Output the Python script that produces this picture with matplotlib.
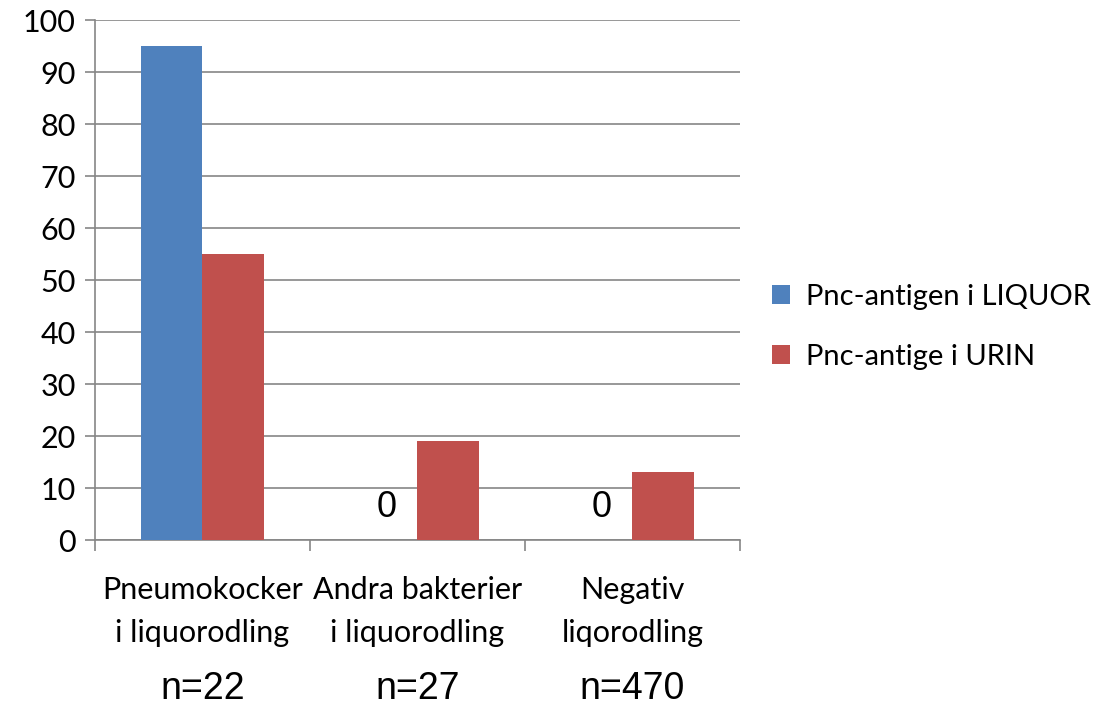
import matplotlib.pyplot as plt
import numpy as np

categories = [("Pneumokocker", "i liquorodling"), ("Andra bakterier", "i liquorodling"), ("Negativ", "liqorodling")]
n_labels = ["n=22", "n=27", "n=470"]
liquor = [95, 0, 0]
urin = [55, 19, 13]
series_names = ["Pnc-antigen i LIQUOR", "Pnc-antige i URIN"]

plt.rcParams['font.family'] = ['Lato', 'DejaVu Sans']

fig = plt.figure(figsize=(11.11, 7.05), dpi=100)
ax = fig.add_axes([95 / 1111, 1 - 540 / 705, 645 / 1111, 520 / 705])

x = np.arange(len(categories))
w = 0.284
ax.bar(x - w / 2, liquor, w, color="#4f81bd", label=series_names[0], zorder=3)
ax.bar(x + w / 2, urin, w, color="#c0504d", label=series_names[1], zorder=3)

# only the zero values carry a data label
for xi, v in zip(x, liquor):
    if v == 0:
        ax.text(xi - w / 2, v + 6.2, "0", ha="center", va="center",
                fontsize=26, family="Liberation Sans")

ax.set_xlim(-0.5, 2.5)
ax.set_ylim(0, 100)
ax.set_yticks(range(0, 101, 10))
ax.yaxis.grid(True, color="#868686", linewidth=1.2, zorder=0)
ax.tick_params(axis="y", labelsize=22, length=7, color="#868686", width=1.2, pad=7)

ax.set_xticks([-0.5, 0.5, 1.5, 2.5])
ax.set_xticklabels([])
ax.tick_params(axis="x", length=8, color="#868686", width=1.2)
for xi, (l1, l2), nl in zip(x, categories, n_labels):
    ax.text(xi, -9.6, l1, ha="center", va="center", fontsize=22, clip_on=False)
    ax.text(xi, -17.9, l2, ha="center", va="center", fontsize=22, clip_on=False)
    ax.text(xi, -30.5, nl, ha="center", va="baseline", fontsize=27,
            family="Liberation Sans", clip_on=False)

for s in ["top", "right"]:
    ax.spines[s].set_visible(False)
for s in ["left", "bottom"]:
    ax.spines[s].set_color("#868686")
    ax.spines[s].set_linewidth(1.2)

ax.legend(loc="center left", bbox_to_anchor=(1.032, 0.41), frameon=False, fontsize=21,
          handlelength=0.62, handleheight=0.62, handletextpad=0.55, labelspacing=1.15,
          borderaxespad=0)

fig.savefig("out.png", dpi=100)
